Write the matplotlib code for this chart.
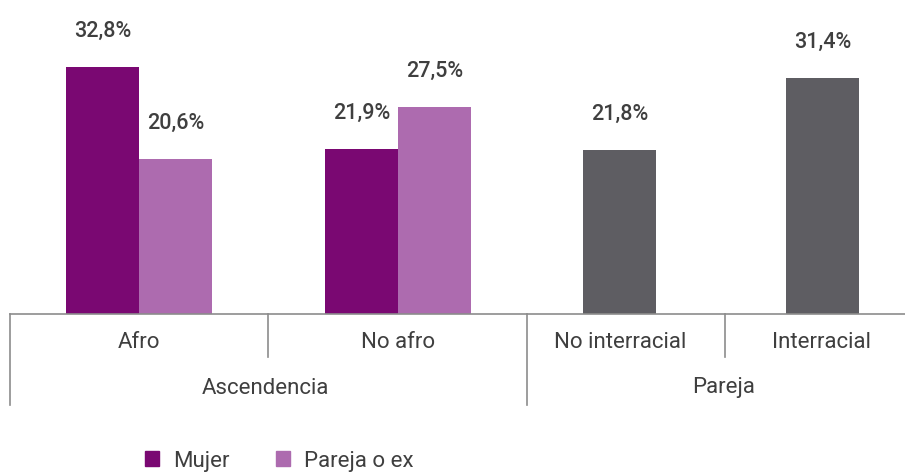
import matplotlib
matplotlib.use("Agg")
import matplotlib.pyplot as plt
from matplotlib.lines import Line2D
from matplotlib.patches import Patch

# ---- data ----
groups = ["Ascendencia", "Pareja"]
categories = ["Afro", "No afro", "No interracial", "Interracial"]
mujer = [32.8, 21.9]
pareja_ex = [20.6, 27.5]
pareja_cat = [21.8, 31.4]
series_names = ["Mujer", "Pareja o ex"]

# ---- style ----
C_MUJER = "#7A0872"
C_PAREJA = "#AD6BAF"
C_GRAY = "#5E5D62"
C_TEXT = "#3F3F3F"
C_LINE = "#8C8C8C"
FONT = dict(family=["Roboto", "DejaVu Sans"])

W, H = 905, 472
fig = plt.figure(figsize=(W / 100, H / 100), dpi=100)
axis_y = 314  # px from top
ax = fig.add_axes([0, (H - axis_y) / H, 1, axis_y / H])
ax.set_xlim(0, W)
px_per_pct = 7.52
ax.set_ylim(0, axis_y / px_per_pct)
ax.axis("off")

# layout (pixel-based x units)
bw = 73
cat_centers = [139, 398, 619.5, 822.5]
cat_label_x = [139, 398, 620, 822]
dividers = [10, 268, 527, 725]
group_label_x = [265, 724]


def label(x, v):
    ax.annotate(f"{v:.1f}%".replace(".", ","), (x, v), xytext=(0, 18),
                textcoords="offset points", ha="center", va="bottom",
                fontsize=15.5, fontweight="medium", color=C_TEXT, **FONT)


for i in range(2):
    c = cat_centers[i]
    ax.bar(c - bw / 2, mujer[i], width=bw, color=C_MUJER)
    ax.bar(c + bw / 2, pareja_ex[i], width=bw, color=C_PAREJA)
    label(c - bw / 2, mujer[i])
    label(c + bw / 2, pareja_ex[i])
for i in range(2):
    c = cat_centers[2 + i]
    ax.bar(c, pareja_cat[i], width=bw, color=C_GRAY)
    label(c, pareja_cat[i])


def fy(px):
    return (H - px) / H


def fx(px):
    return px / W


lines = [
    ((dividers[0], W), (axis_y, axis_y)),
    ((dividers[0], dividers[0]), (axis_y, 405)),
    ((dividers[1], dividers[1]), (axis_y, 357)),
    ((dividers[2], dividers[2]), (axis_y, 405)),
    ((dividers[3], dividers[3]), (axis_y, 357)),
]
for xs, ys in lines:
    fig.add_artist(Line2D([fx(x) for x in xs], [fy(y) for y in ys],
                          color=C_LINE, lw=1.2))

for x, name in zip(cat_label_x, categories):
    fig.text(fx(x), fy(342), name, ha="center", va="center",
             fontsize=16, color=C_TEXT, **FONT)
for x, name in zip(group_label_x, groups):
    fig.text(fx(x), fy(388), name, ha="center", va="center",
             fontsize=16, color=C_TEXT, **FONT)

handles = [Patch(color=C_MUJER), Patch(color=C_PAREJA)]
leg = fig.legend(handles, series_names, loc="center left",
                 bbox_to_anchor=(fx(145), fy(461)), ncol=2, frameon=False,
                 handlelength=0.65, handleheight=0.65, handletextpad=0.6,
                 columnspacing=2.1, borderaxespad=0, borderpad=0,
                 prop=dict(size=16, **FONT))
for t in leg.get_texts():
    t.set_color(C_TEXT)

fig.savefig("out.png", dpi=100)
